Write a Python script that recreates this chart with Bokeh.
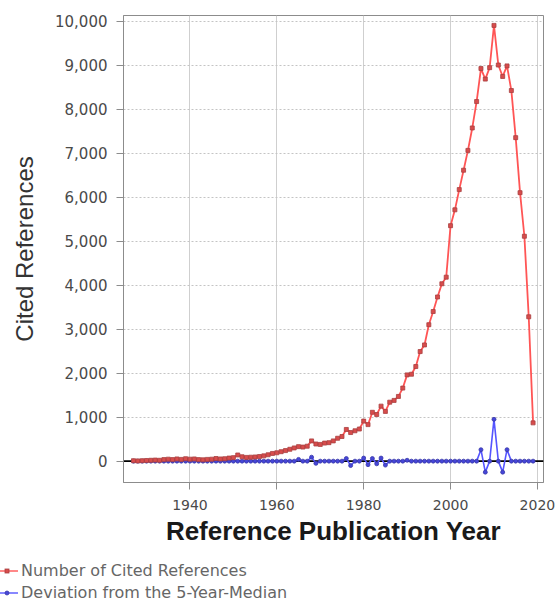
from bokeh.plotting import figure
from bokeh.layouts import column
from bokeh.models import Range1d, FixedTicker, Span, NumeralTickFormatter, Div
from bokeh.embed import file_html
from bokeh.resources import INLINE

years = list(range(1927, 2020))
cited = [10, 5, 10, 15, 20, 25, 20, 35, 45, 35,
         50, 40, 55, 45, 50, 35, 30, 40, 45, 60,
         50, 55, 70, 80, 140, 100, 85, 90, 95, 105,
         120, 145, 175, 190, 215, 240, 270, 300, 330, 320,
         340, 460, 390, 380, 410, 420, 460, 520, 560, 720,
         650, 690, 730, 910, 830, 1110, 1060, 1250, 1130, 1340,
         1380, 1470, 1660, 1960, 1975, 2150, 2490, 2640, 3100, 3400,
         3730, 4030, 4180, 5350, 5710, 6170, 6610, 7060, 7570, 8170,
         8920, 8680, 8940, 9900, 9000, 8740, 8980, 8420, 7350, 6100,
         5110, 3280, 870]
deviation = [0, 0, 0, 0, 0, 0, 0, 0, 0, 0,
             0, 0, 0, 0, 0, 0, 0, 0, 0, 0,
             0, 0, 0, 0, 0, 0, 0, 0, 0, 0,
             0, 0, 0, 0, 0, 0, 0, 0, 40, 0,
             0, 90, -50, 0, 0, 0, 0, 0, 0, 60,
             -100, 0, 0, 70, -80, 60, -60, 70, -90, 0,
             0, 0, 0, 20, 0, 0, 0, 0, 0, 0,
             0, 0, 0, 0, 0, 0, 0, 0, 0, 0,
             260, -250, 0, 950, 0, -250, 260, 0, 0, 0,
             0, 0, 0]
x_ticks = [1940, 1960, 1980, 2000, 2020]
y_ticks = [0, 1000, 2000, 3000, 4000, 5000, 6000, 7000, 8000, 9000, 10000]
series_names = ["Number of Cited References", "Deviation from the 5-Year-Median"]

RED, RED_MK, RED_MK_LINE = "#FF5555", "#d84c4c", "#a84040"
BLUE, BLUE_MK, BLUE_MK_LINE = "#5555FF", "#4646d8", "#3a3aa8"

p = figure(width=555, height=548, output_backend="svg", toolbar_location=None,
           x_range=Range1d(1924.7, 2021.4), y_range=Range1d(-485, 10125),
           min_border_left=123, min_border_right=12, min_border_top=15,
           min_border_bottom=63)
p.background_fill_color = "white"
p.border_fill_color = "white"
p.outline_line_color = "#8c8c8c"
p.outline_line_width = 1

# grids
p.xgrid.ticker = FixedTicker(ticks=x_ticks)
p.ygrid.ticker = FixedTicker(ticks=y_ticks)
p.xgrid.grid_line_color = "#cfcfcf"
p.xgrid.grid_line_width = 1
p.ygrid.grid_line_color = "#c4c4c4"
p.ygrid.grid_line_dash = "2 2"
p.ygrid.grid_line_width = 1

# axes
p.xaxis.ticker = FixedTicker(ticks=x_ticks)
p.yaxis.ticker = FixedTicker(ticks=y_ticks)
p.yaxis.formatter = NumeralTickFormatter(format="0,0")
for ax in (p.xaxis[0], p.yaxis[0]):
    ax.axis_line_color = "#8c8c8c"
    ax.major_tick_line_color = "#8c8c8c"
    ax.minor_tick_line_color = None
    ax.major_tick_in = 0
    ax.major_tick_out = 7
    ax.major_label_text_font = "DejaVu Sans"
    ax.major_label_text_font_size = "14px"
    ax.major_label_text_color = "#4a4a4a"
p.yaxis.major_label_text_font_size = "15px"
p.yaxis.major_label_standoff = 9
p.xaxis.major_label_standoff = 10
p.xaxis.axis_label = "Reference Publication Year"
p.xaxis.axis_label_text_font = "Liberation Sans"
p.xaxis.axis_label_text_font_size = "26px"
p.xaxis.axis_label_text_font_style = "bold"
p.xaxis.axis_label_text_color = "#1a1a1a"
p.xaxis.axis_label_standoff = 3
p.yaxis.axis_label = "Cited References"
p.yaxis.axis_label_text_font = "Liberation Sans"
p.yaxis.axis_label_text_font_size = "24px"
p.yaxis.axis_label_text_font_style = "normal"
p.yaxis.axis_label_text_color = "#333333"
p.yaxis.axis_label_standoff = 14

zero = Span(location=0, dimension="width", line_color="black", line_width=1.6)
zero.level = "underlay"
p.add_layout(zero)

# blue series first (drawn beneath red)
p.line(years, deviation, line_color=BLUE, line_width=1.6)
p.scatter(years, deviation, marker="circle", size=4,
          fill_color=BLUE_MK, line_color=BLUE_MK_LINE, line_width=0.8)
p.line(years, cited, line_color=RED, line_width=1.8)
p.scatter(years, cited, marker="square", size=4,
          fill_color=RED_MK, line_color=RED_MK_LINE, line_width=0.8)


def legend_row(label, line_color, mk_fill, mk_line, square):
    if square:
        mark = (f'<rect x="5" y="9" width="4" height="4" fill="{mk_fill}" '
                f'stroke="{mk_line}" stroke-width="0.8"/>')
    else:
        mark = (f'<circle cx="7" cy="11" r="2" fill="{mk_fill}" '
                f'stroke="{mk_line}" stroke-width="0.8"/>')
    return ('<div style="height:22px;line-height:22px;white-space:nowrap;'
            'display:flex;align-items:center;">'
            '<svg width="18" height="22" style="flex:none;">'
            f'<line x1="0" y1="11" x2="18" y2="11" stroke="{line_color}" '
            f'stroke-width="1.4"/>{mark}</svg>'
            f'<span style="margin-left:3px;">{label}</span></div>')


legend_html = ('<div style="padding-top:12px;font-family:\'DejaVu Sans\';'
               'font-size:16px;color:#666666;">'
               + legend_row(series_names[0], RED, RED_MK, RED_MK_LINE, True)
               + legend_row(series_names[1], BLUE, BLUE_MK, BLUE_MK_LINE, False)
               + '</div>')
lg = Div(text=legend_html, width=555, height=54, margin=(0, 0, 0, 0))

page = column(p, lg, spacing=0)
open("out.html", "w").write(file_html(page, INLINE))
